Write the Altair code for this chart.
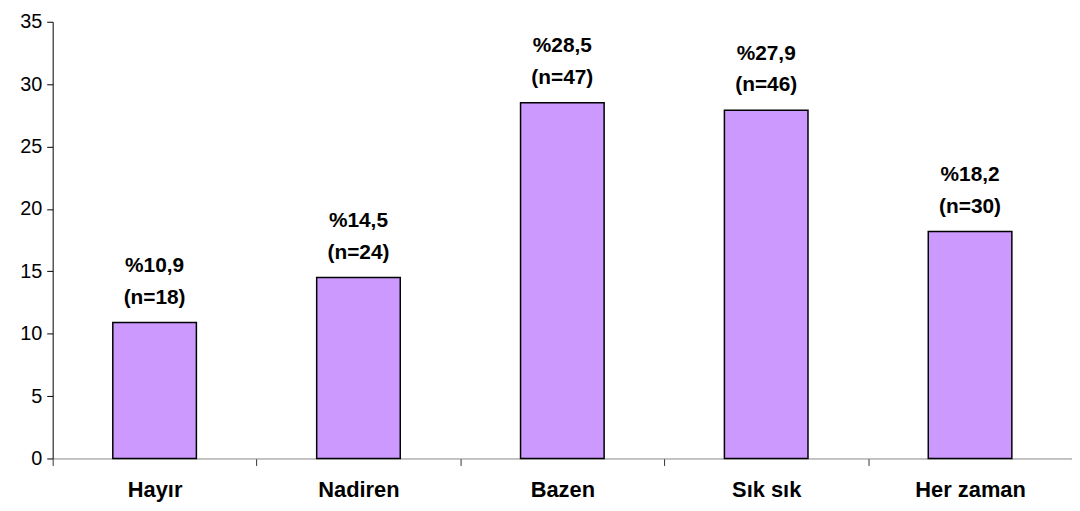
import altair as alt
import pandas as pd

categories = ["Hayır", "Nadiren", "Bazen", "Sık sık", "Her zaman"]
percents = [10.9, 14.5, 28.5, 27.9, 18.2]
counts = [18, 24, 47, 46, 30]

df = pd.DataFrame({"cat": categories, "pct": percents, "n": counts})
df["line1"] = ["%" + f"{p:.1f}".replace(".", ",") for p in percents]
df["line2"] = [f"(n={n})" for n in counts]

FONT = "Liberation Sans"
FS = 21

x = alt.X(
    "cat:N",
    sort=categories,
    title=None,
    scale=alt.Scale(paddingInner=0, paddingOuter=0),
    axis=alt.Axis(
        labelAngle=0,
        labelFont=FONT,
        labelFontSize=22,
        labelFontWeight="bold",
        labelColor="black",
        labelPadding=14,
        tickBand="extent",
        tickSize=7,
        tickColor="#333333",
        domainColor="#888888",
        domainWidth=1,
        tickWidth=1,
    ),
)

y = alt.Y(
    "pct:Q",
    title=None,
    scale=alt.Scale(domain=[0, 35], nice=False),
    axis=alt.Axis(
        values=[0, 5, 10, 15, 20, 25, 30, 35],
        grid=False,
        labelFont=FONT,
        labelFontSize=20,
        labelColor="black",
        labelPadding=5,
        tickSize=6,
        tickColor="black",
        domainColor="black",
        domainWidth=1,
    ),
)

bars = alt.Chart(df).mark_bar(
    color="#CC99FF", stroke="black", strokeWidth=1.5,
    width=alt.RelativeBandSize(0.41),
).encode(x=x, y=y)

text1 = alt.Chart(df).mark_text(
    font=FONT, fontSize=FS, fontWeight="bold", color="black",
    baseline="middle", dy=-57,
).encode(x=alt.X("cat:N", sort=categories), y="pct:Q", text="line1")

text2 = alt.Chart(df).mark_text(
    font=FONT, fontSize=FS, fontWeight="bold", color="black",
    baseline="middle", dy=-25,
).encode(x=alt.X("cat:N", sort=categories), y="pct:Q", text="line2")

chart = (
    alt.layer(bars, text1, text2)
    .properties(
        width=1027,
        height=440,
        autosize=alt.AutoSizeParams(type="none"),
        padding={"left": 45, "top": 12, "right": 0, "bottom": 44},
    )
    .configure_view(stroke=None)
)

chart.save("out.html", embed_options={"renderer": "svg", "actions": False})
